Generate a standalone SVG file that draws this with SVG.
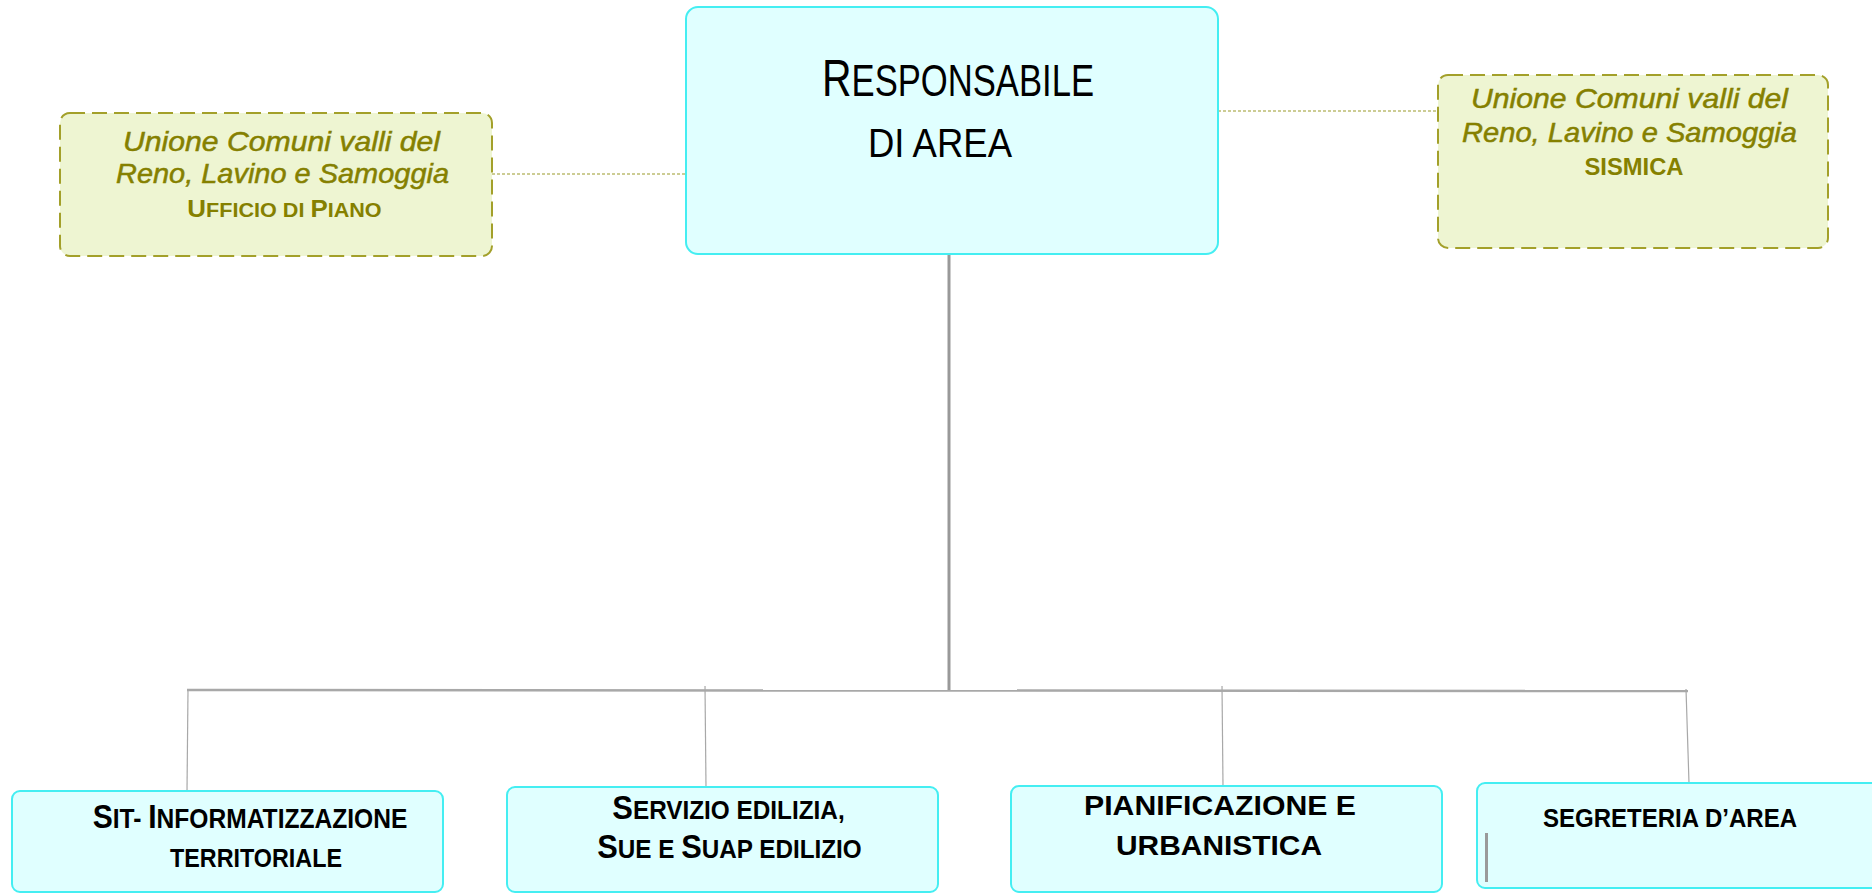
<svg xmlns="http://www.w3.org/2000/svg" width="1872" height="894" viewBox="0 0 1872 894">
<style>
.cy{fill:#e0ffff;stroke:#44eef2;stroke-width:2}
.ol{fill:#eef5d2;stroke:#a3a02a;stroke-width:2;stroke-dasharray:15 7}
.olt{font-family:"Liberation Sans",Arial,sans-serif;fill:#858000;text-anchor:middle}
.it{font-style:italic;font-size:28px;stroke:#858000;stroke-width:0.5}
.bk{font-family:"Liberation Sans",Arial,sans-serif;fill:#000;text-anchor:middle}
.b{font-weight:bold}
.dot{stroke:#9a9a2a;stroke-width:1.2;stroke-dasharray:3 2;fill:none}
.gl{stroke:#a8a8a8;fill:none}
</style>
<g id="connectors">
<line class="dot" x1="492" y1="174" x2="685" y2="174"/>
<line class="dot" x1="1218" y1="111" x2="1438" y2="111"/>
<line class="gl" x1="949" y1="254" x2="949" y2="691" stroke-width="3" style="stroke:#999"/>
<line class="gl" x1="187" y1="690" x2="1688" y2="691" stroke-width="2.5"/>
<line class="gl" x1="188" y1="690" x2="187" y2="791" stroke-width="1.2"/>
<line class="gl" x1="705" y1="686" x2="706" y2="787" stroke-width="1.2"/>
<line class="gl" x1="1222" y1="686" x2="1223" y2="786" stroke-width="1.2"/>
<line class="gl" x1="1686" y1="689" x2="1689" y2="783" stroke-width="1.2"/>
</g>
<g id="responsabile">
<rect class="cy" x="686" y="7" width="532" height="247" rx="12"/>
<text class="bk" transform="translate(958 96) scale(0.787 1)" x="0" y="0"><tspan font-size="52">R</tspan><tspan font-size="44">ESPONSABILE</tspan></text>
<text class="bk" x="940" y="157" font-size="40" textLength="144" lengthAdjust="spacingAndGlyphs">DI AREA</text>
</g>
<g id="ufficio-piano">
<rect class="ol" x="60" y="113" width="432" height="143" rx="10"/>
<text class="olt it" x="281.5" y="151" textLength="317" lengthAdjust="spacingAndGlyphs">Unione Comuni valli del</text>
<text class="olt it" x="282.5" y="183" textLength="333" lengthAdjust="spacingAndGlyphs">Reno, Lavino e Samoggia</text>
<text class="olt b" transform="translate(284.5 217) scale(1.08 1)" x="0" y="0"><tspan font-size="24">U</tspan><tspan font-size="20">FFICIO DI </tspan><tspan font-size="24">P</tspan><tspan font-size="20">IANO</tspan></text>
</g>
<g id="sismica">
<rect class="ol" x="1438" y="75" width="390" height="173" rx="10"/>
<text class="olt it" x="1629.5" y="108" textLength="317" lengthAdjust="spacingAndGlyphs">Unione Comuni valli del</text>
<text class="olt it" x="1629.5" y="142" textLength="335" lengthAdjust="spacingAndGlyphs">Reno, Lavino e Samoggia</text>
<text class="olt b" x="1634" y="175" font-size="23" textLength="99" lengthAdjust="spacingAndGlyphs">SISMICA</text>
</g>
<g id="sit">
<rect class="cy" x="12" y="791" width="431" height="101" rx="8"/>
<text class="bk b" transform="translate(250 828) scale(0.911 1)" x="0" y="0"><tspan font-size="33">S</tspan><tspan font-size="27">IT- </tspan><tspan font-size="33">I</tspan><tspan font-size="27">NFORMATIZZAZIONE</tspan></text>
<text class="bk b" x="256" y="867" font-size="26" textLength="172" lengthAdjust="spacingAndGlyphs">TERRITORIALE</text>
</g>
<g id="edilizia">
<rect class="cy" x="507" y="787" width="431" height="105" rx="8"/>
<text class="bk b" transform="translate(728.5 819) scale(0.936 1)" x="0" y="0"><tspan font-size="33">S</tspan><tspan font-size="26">ERVIZIO EDILIZIA,</tspan></text>
<text class="bk b" transform="translate(729.5 858) scale(0.934 1)" x="0" y="0"><tspan font-size="33">S</tspan><tspan font-size="26">UE E </tspan><tspan font-size="33">S</tspan><tspan font-size="26">UAP EDILIZIO</tspan></text>
</g>
<g id="pianificazione">
<rect class="cy" x="1011" y="786" width="431" height="106" rx="8"/>
<text class="bk b" x="1220" y="815" font-size="28" textLength="272" lengthAdjust="spacingAndGlyphs">PIANIFICAZIONE E</text>
<text class="bk b" x="1219" y="855" font-size="28" textLength="206" lengthAdjust="spacingAndGlyphs">URBANISTICA</text>
</g>
<g id="segreteria">
<rect class="cy" x="1477" y="783" width="405" height="105" rx="8"/>
<text class="bk b" x="1670" y="827" font-size="25" textLength="254" lengthAdjust="spacingAndGlyphs">SEGRETERIA D’AREA</text>
<rect x="1485" y="833" width="3" height="49" fill="#9a9a9a"/>
</g>
</svg>
